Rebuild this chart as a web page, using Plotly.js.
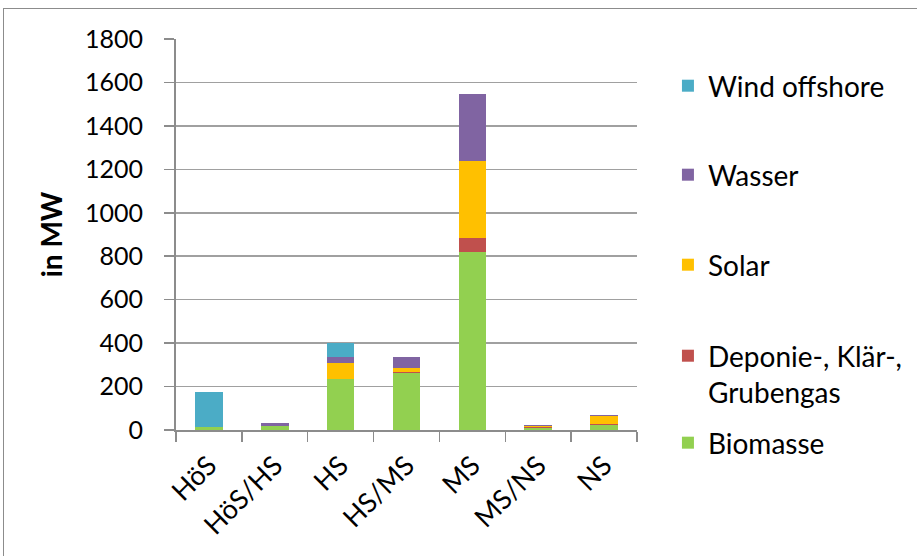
<!DOCTYPE html>
<html><head><meta charset="utf-8">
<script src="https://cdn.plot.ly/plotly-3.0.1.min.js"></script>
<style>
html,body{margin:0;padding:0;background:#fff;}
#wrap{position:relative;width:917px;height:556px;}
#chart{width:917px;height:556px;}
#frame{position:absolute;left:3px;top:8px;width:1000px;height:700px;border-left:1.5px solid #8c8c8c;border-top:1.5px solid #8c8c8c;pointer-events:none;}
</style></head>
<body>
<div id="wrap"><div id="chart"></div><div id="frame"></div></div>
<script>
const categories = ["HöS", "HöS/HS", "HS", "HS/MS", "MS", "MS/NS", "NS"];
const biomasse   = [15, 18, 234, 263, 820, 9, 23];
const deponie    = [0, 0, 3, 3, 66, 4, 4];
const solar      = [0, 0, 72, 21, 352, 7, 38];
const wasser     = [0, 12, 28, 49, 310, 4, 6];
const windOff    = [160, 0, 63, 0, 0, 0, 0];
const yTicks     = [0, 200, 400, 600, 800, 1000, 1200, 1400, 1600, 1800];

const seriesNames  = ["Biomasse", "Deponie-, Klär-,<br>Grubengas", "Solar", "Wasser", "Wind offshore"];
const seriesValues = [biomasse, deponie, solar, wasser, windOff];
const seriesColors = ["#92D050", "#C0504D", "#FFC000", "#8064A2", "#4BACC6"];
const legendIds    = ["legend5", "legend4", "legend3", "legend2", "legend"];

const traces = seriesNames.map((n, i) => ({
  type: "bar", name: n, x: categories, y: seriesValues[i],
  marker: {color: seriesColors[i], line: {width: 0}},
  legend: legendIds[i], hoverinfo: "x+y+name"
}));

const FONT = "Lato, 'Open Sans', sans-serif";
const legFont = {family: FONT, size: 28, color: "#000"};
function leg(y){ return {xref: "container", x: 0.7284, xanchor: "left", y: y, yanchor: "middle", font: legFont, bgcolor: "rgba(0,0,0,0)", valign: "top"}; }

const layout = {
  width: 917, height: 556,
  margin: {l: 176, r: 280, t: 39, b: 126},
  paper_bgcolor: "#fff", plot_bgcolor: "#fff",
  barmode: "stack", bargap: 0.58,
  xaxis: {
    type: "category", tickson: "boundaries", ticks: "outside", ticklen: 10, tickwidth: 1.5, tickcolor: "#8c8c8c",
    showline: true, linecolor: "#8c8c8c", linewidth: 2, showgrid: false,
    tickangle: -45, ticklabelstandoff: 7,
    tickfont: {family: FONT, size: 27, color: "#000"}
  },
  yaxis: {
    range: [0, 1800], tickvals: yTicks, ticks: "outside", ticklen: 10, tickwidth: 1.5, tickcolor: "#8c8c8c",
    showline: true, linecolor: "#8c8c8c", linewidth: 2, showgrid: true, gridcolor: "#a0a0a0", gridwidth: 1.5,
    zeroline: false, ticklabelstandoff: 16,
    tickfont: {family: FONT, size: 25, color: "#000"},
    title: {text: "in MW", font: {family: FONT, size: 28, color: "#000", weight: "bold"}, standoff: 14}
  },
  legend: leg(0.8798), legend2: leg(0.6522), legend3: leg(0.422), legend4: leg(0.1432), legend5: leg(-0.0332),
  showlegend: true
};

Plotly.newPlot("chart", traces, layout, {displayModeBar: false, staticPlot: true});
</script>
</body></html>
